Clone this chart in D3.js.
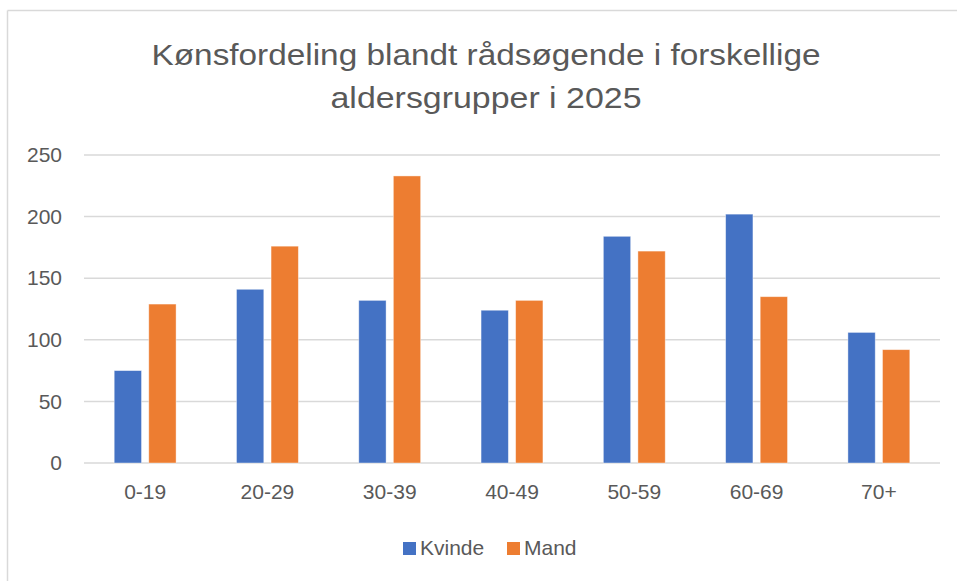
<!DOCTYPE html>
<html>
<head>
<meta charset="utf-8">
<script src="https://cdn.jsdelivr.net/npm/d3@7"></script>
<style>
  body { margin: 0; background: #fff; }
  text { font-family: "Liberation Sans", Arial, sans-serif; fill: #595959; }
</style>
</head>
<body>
<div id="chart"></div>
<script>
var W = 957, H = 581
var titleLines = ['Kønsfordeling blandt rådsøgende i forskellige', 'aldersgrupper i 2025']
var groups = ['0-19', '20-29', '30-39', '40-49', '50-59', '60-69', '70+']
var series = ['Kvinde', 'Mand']
var kvinde = [75, 141, 132, 124, 184, 202, 106]
var mand = [129, 176, 233, 132, 172, 135, 92]
var yTicks = [0, 50, 100, 150, 200, 250]
var colors = ['#4472C4', '#ED7D31']

var margin = {left: 84, right: 17, top: 155, bottom: 118}

var svg = d3.select('#chart').append('svg')
  .attr('width', W)
  .attr('height', H)

// chart frame (only top and left edge show)
svg.append('line').attr('x1', 7.5).attr('x2', W).attr('y1', 10.5).attr('y2', 10.5)
  .attr('stroke', '#d9d9d9').attr('stroke-width', 1.5)
svg.append('line').attr('x1', 7.5).attr('x2', 7.5).attr('y1', 10.5).attr('y2', H)
  .attr('stroke', '#d9d9d9').attr('stroke-width', 1.5)

// title
var titleLen = [669, 311]
svg.selectAll('.title')
  .data(titleLines)
  .enter()
  .append('text')
  .attr('class', 'title')
  .attr('x', 486)
  .attr('y', function(d, i){ return 65 + i * 43 })
  .attr('text-anchor', 'middle')
  .attr('textLength', function(d, i){ return titleLen[i] })
  .attr('lengthAdjust', 'spacingAndGlyphs')
  .style('font-size', '30px')
  .text(function(d){ return d })

var x0 = d3.scaleBand().domain(groups).range([margin.left, W - margin.right]).padding(0)
var bw = x0.bandwidth()
var x1 = d3.scaleBand().domain(series).range([bw * 0.247, bw * 0.753]).paddingInner(0.21)
var y = d3.scaleLinear().domain([0, 250]).range([H - margin.bottom, margin.top])

// gridlines
svg.append('g')
  .selectAll('line')
  .data(yTicks)
  .enter()
  .append('line')
  .attr('x1', margin.left)
  .attr('x2', W - margin.right)
  .attr('y1', function(d){ return y(d) })
  .attr('y2', function(d){ return y(d) })
  .attr('stroke', '#d9d9d9')
  .attr('stroke-width', 1.5)

// y axis labels
var yaxis = svg.append('g')
  .attr('transform', 'translate(' + (margin.left - 22) + ',0)')
  .call(d3.axisLeft(y).tickValues(yTicks).tickSize(0).tickPadding(0))
yaxis.select('.domain').remove()
yaxis.selectAll('text')
  .attr('fill', '#595959')
  .style('font-size', '21px')
  .style('font-family', '"Liberation Sans", Arial, sans-serif')

// x axis labels
var xaxis = svg.append('g')
  .attr('transform', 'translate(0,' + y(0) + ')')
  .call(d3.axisBottom(x0).tickSize(0).tickPadding(21))
xaxis.select('.domain').remove()
xaxis.selectAll('text')
  .attr('fill', '#595959')
  .style('font-size', '21px')
  .style('font-family', '"Liberation Sans", Arial, sans-serif')

// bars
var data = [kvinde, mand]
var gs = svg.append('g').selectAll('g')
  .data(series)
  .enter()
  .append('g')
  .attr('fill', function(d, i){ return colors[i] })

gs.selectAll('rect')
  .data(function(d, i){ return data[i].map(function(v, j){ return {s: d, g: groups[j], v: v} }) })
  .enter()
  .append('rect')
  .attr('x', function(d){ return x0(d.g) + x1(d.s) })
  .attr('y', function(d){ return y(d.v) })
  .attr('width', x1.bandwidth())
  .attr('height', function(d){ return y(0) - y(d.v) })
  .attr('stroke', 'rgba(255,255,255,0.5)')
  .attr('stroke-width', 0.8)

// legend
var legX = [403, 507]
var leg = svg.append('g').selectAll('g')
  .data(series)
  .enter()
  .append('g')
  .attr('transform', function(d, i){ return 'translate(' + legX[i] + ',542)' })
leg.append('rect')
  .attr('width', 13).attr('height', 13)
  .attr('fill', function(d, i){ return colors[i] })
leg.append('text')
  .attr('x', 17)
  .attr('y', 13)
  .style('font-size', '21px')
  .text(function(d){ return d })
</script>
</body>
</html>
